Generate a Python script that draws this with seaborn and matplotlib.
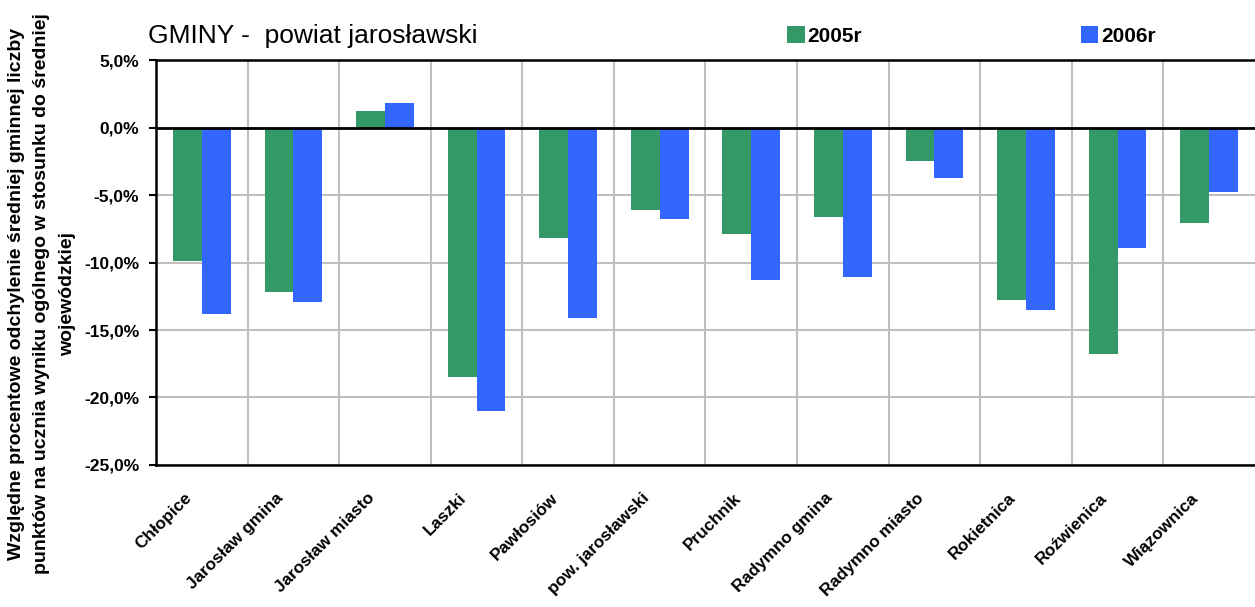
import pandas as pd
import numpy as np
import matplotlib.pyplot as plt
import matplotlib.transforms as mtrans
import seaborn as sns

gminy = ['Chłopice', 'Jarosław gmina', 'Jarosław miasto', 'Laszki', 'Pawłosiów',
         'pow. jarosławski', 'Pruchnik', 'Radymno gmina', 'Radymno miasto',
         'Rokietnica', 'Roźwienica', 'Wiązownica']
w2005 = [-9.9, -12.2, 1.2, -18.5, -8.2, -6.1, -7.9, -6.6, -2.5, -12.8, -16.8, -7.1]
w2006 = [-13.8, -12.9, 1.8, -21.0, -14.1, -6.8, -11.3, -11.1, -3.7, -13.5, -8.9, -4.8]
lata = ['2005r', '2006r']
kolory = ['#339966', '#3366FF']

df = pd.DataFrame({
    'gmina': gminy * 2,
    'rok': [lata[0]] * len(gminy) + [lata[1]] * len(gminy),
    'wartosc': w2005 + w2006,
})

sns.set_style('white')
plt.rcParams['font.family'] = ['Liberation Sans', 'DejaVu Sans']
plt.rcParams['text.color'] = 'black'
plt.rcParams['xtick.color'] = 'black'
plt.rcParams['ytick.color'] = 'black'

fig = plt.figure(figsize=(12.55, 6.07), dpi=100)
ax = fig.add_axes([0.1243, 0.234, 0.8757, 0.667])

sns.barplot(data=df, x='gmina', y='wartosc', hue='rok', palette=kolory,
            width=0.63, gap=0, saturation=1, linewidth=0, ax=ax, zorder=3)

ax.set_xlim(-0.5, len(gminy) - 0.5)
ax.set_ylim(-25, 5)
yt = np.arange(-25, 6, 5)
ax.set_yticks(yt)
ax.set_yticklabels([f'{v:.1f}%'.replace('.', ',') for v in yt],
                   fontsize=12.5, fontweight='bold')
ax.set_xticks(range(len(gminy)))
ax.set_xticklabels(gminy, rotation=45, ha='right', va='top', rotation_mode='anchor',
                   fontsize=12.3, fontweight='bold')
ax.set_xticks(np.arange(0.5, len(gminy) - 0.5, 1), minor=True)
ax.tick_params(axis='x', which='both', length=0, pad=14)
ax.tick_params(axis='y', which='major', length=5, width=1.5, direction='out', left=True, pad=7)

# przesuniecie etykiet osi X (po tick_params, bo ono resetuje transformacje)
przes = mtrans.ScaledTranslation(-0.18, -0.06, fig.dpi_scale_trans)
for lab in ax.get_xticklabels():
    lab.set_transform(lab.get_transform() + przes)

ax.grid(axis='y', which='major', color='#c0c0c0', lw=1.5, zorder=0)
ax.grid(axis='x', which='minor', color='#c0c0c0', lw=1.5, zorder=0)
ax.axhline(0, color='black', lw=2, zorder=4)

for s in ['left', 'bottom', 'top']:
    ax.spines[s].set_color('black')
    ax.spines[s].set_linewidth(1.8)
ax.spines['right'].set_visible(False)

ax.set_xlabel('')
ax.set_ylabel('')
fig.text(42 / 1255, 1 - 294 / 607,
         'Względne procentowe odchylenie średniej gminnej liczby\n'
         'punktów na ucznia wyniku ogólnego w stosunku do średniej\n'
         'wojewódzkiej', fontsize=14, fontweight='bold', rotation=90,
         ha='center', va='center', multialignment='center', linespacing=1.65)

fig.text(148 / 1255, 1 - 36 / 607, 'GMINY -  powiat jarosławski', fontsize=19,
         va='center', ha='left')

leg = ax.legend(loc='center left', bbox_to_anchor=(787 / 1255, 1 - 36 / 607),
                bbox_transform=fig.transFigure, ncol=2, frameon=False,
                prop={'size': 15, 'weight': 'bold'}, handlelength=0.85,
                handleheight=0.85, handletextpad=0.12, columnspacing=10.5,
                borderpad=0, borderaxespad=0)

fig.savefig('out.png', dpi=100)
